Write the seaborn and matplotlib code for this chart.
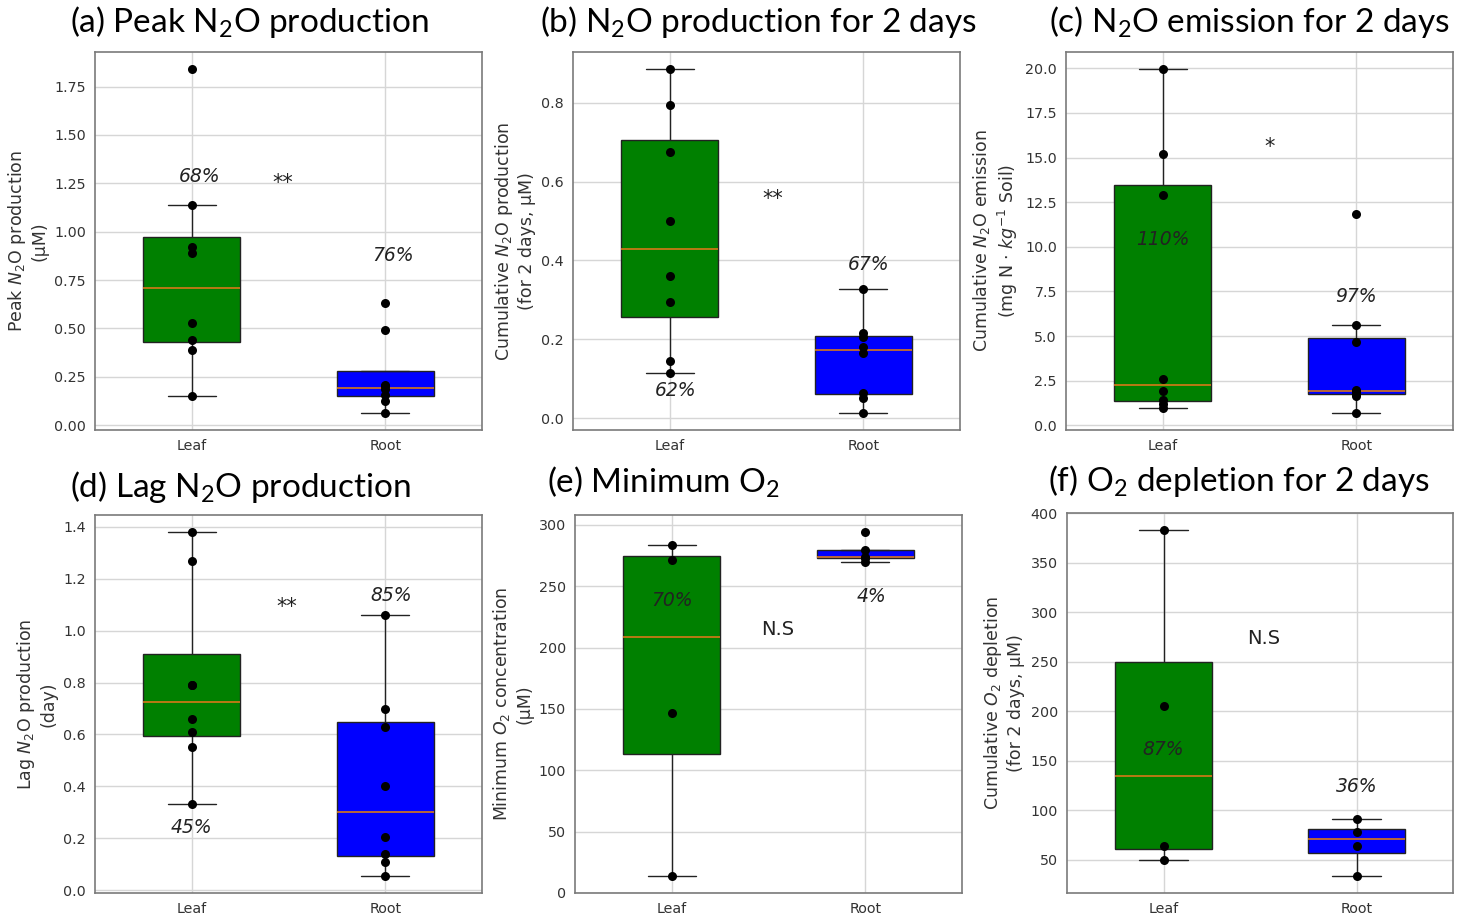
import matplotlib
matplotlib.use("Agg")
import matplotlib.pyplot as plt
import pandas as pd
import seaborn as sns

# ---- data: one small array per group and panel ----
groups = ["Leaf", "Root"]
group_colors = ["#008000", "#0000ff"]

peak_leaf = [1.84, 1.14, 0.92, 0.89, 0.53, 0.44, 0.39, 0.15]
peak_root = [0.63, 0.49, 0.21, 0.201, 0.185, 0.158, 0.126, 0.064]

cum_leaf = [0.885, 0.795, 0.675, 0.50, 0.36, 0.295, 0.145, 0.115]
cum_root = [0.327, 0.215, 0.206, 0.18, 0.165, 0.065, 0.05, 0.0135]

emis_leaf = [19.95, 15.2, 12.9, 2.6, 1.9, 1.4, 1.2, 0.95]
emis_root = [11.85, 5.6, 4.65, 2.0, 1.9, 1.78, 1.65, 0.7]

lag_leaf = [1.38, 1.27, 0.79, 0.79, 0.66, 0.61, 0.55, 0.33]
lag_root = [1.06, 0.70, 0.63, 0.40, 0.205, 0.14, 0.11, 0.055]

mino2_leaf = [283.4, 271.2, 146.5, 13.9]
mino2_root = [294.0, 279.6, 273.4, 272.8, 269.8]

dep_leaf = [383.0, 205.5, 64.5, 50.3]
dep_root = [91.6, 78.4, 64.5, 34.1]

titles = [
    r"(a) Peak N$_\mathregular{2}$O production",
    r"(b) N$_\mathregular{2}$O production for 2 days",
    r"(c) N$_\mathregular{2}$O emission for 2 days",
    r"(d) Lag N$_\mathregular{2}$O production",
    r"(e) Minimum O$_\mathregular{2}$",
    r"(f) O$_\mathregular{2}$ depletion for 2 days",
]
ylabels = [
    "Peak $N_2$O production\n(μM)",
    "Cumulative $N_2$O production\n(for 2 days, μM)",
    "Cumulative $N_2$O emission\n(mg N $\\cdot$ $kg^{-1}$ Soil)",
    "Lag $N_2$O production\n(day)",
    "Minimum $O_2$ concentration\n(μM)",
    "Cumulative $O_2$ depletion\n(for 2 days, μM)",
]
# coefficient of variation labels (Leaf, Root) and significance marks
cv_labels = [["68%", "76%"], ["62%", "67%"], ["110%", "97%"],
             ["45%", "85%"], ["70%", "4%"], ["87%", "36%"]]
sig_labels = ["**", "**", "*", "**", "N.S", "N.S"]

series = [(peak_leaf, peak_root), (cum_leaf, cum_root), (emis_leaf, emis_root),
          (lag_leaf, lag_root), (mino2_leaf, mino2_root), (dep_leaf, dep_root)]

# ---- layout (pixels of a 1467 x 917 canvas) ----
W, H = 1467, 917
axes_px = [(95, 52, 482, 430), (573, 52, 960, 430), (1066, 52, 1453, 430),
           (95, 515, 482, 893), (575, 515, 962, 893), (1067, 513, 1453, 893)]
title_px = [(70, 22), (540, 22), (1049, 22), (70, 487), (547, 482), (1048, 481)]
cv_pos = [[(0.04, 1.285), (1.04, 0.875)], [(0.03, 0.07), (1.03, 0.39)],
          [(0.0, 10.4), (1.0, 7.2)], [(0.0, 0.24), (1.03, 1.135)],
          [(0.0, 238.0), (1.03, 241.5)], [(0.0, 162.0), (1.0, 124.0)]]
sig_pos = [(0.47, 1.25), (0.53, 0.555), (0.55, 15.6), (0.49, 1.09),
           (0.55, 214.5), (0.52, 274.0)]

sns.set_style("white")
plt.rcParams["font.family"] = ["DejaVu Sans"]
plt.rcParams["mathtext.fontset"] = "dejavusans"

fig = plt.figure(figsize=(W / 100, H / 100), dpi=100)
fig.patch.set_facecolor("white")

for i, (leaf, root) in enumerate(series):
    l, t, r, b = axes_px[i]
    ax = fig.add_axes([l / W, 1 - b / H, (r - l) / W, (b - t) / H])
    df = pd.DataFrame({
        "group": [groups[0]] * len(leaf) + [groups[1]] * len(root),
        "value": list(leaf) + list(root),
    })
    sns.boxplot(data=df, x="group", y="value", hue="group", palette=group_colors,
                order=groups, hue_order=groups, legend=False, saturation=1,
                width=0.5, showfliers=False, linecolor="#222222", linewidth=1.0,
                medianprops=dict(color="#d87818", linewidth=1.2), ax=ax)
    sns.stripplot(data=df, x="group", y="value", order=groups, color="black",
                  jitter=False, size=6.5, zorder=4, ax=ax)

    ax.set_xlim(-0.5, 1.5)
    ax.grid(True, color="#d6d6d6", linewidth=1.0)
    ax.set_axisbelow(True)
    for sp in ax.spines.values():
        sp.set_color("#7a7a7a")
        sp.set_linewidth(1.2)
    ax.tick_params(axis="both", length=3.5, width=0.9, color="#555555",
                   labelsize=10.3, labelcolor="#333333", pad=3)
    ax.set_xlabel("")
    ax.set_ylabel(ylabels[i], fontsize=12.5, color="#333333", labelpad=4)

    for (x, y), txt in zip(cv_pos[i], cv_labels[i]):
        ax.text(x, y, txt, ha="center", va="center", fontsize=13.5,
                style="italic", color="#222222")
    sx, sy = sig_pos[i]
    ns = sig_labels[i] == "N.S"
    ax.text(sx, sy, sig_labels[i], ha="center", va="center",
            fontsize=14 if ns else 15, color="#222222")

    tx, ty = title_px[i]
    fig.text(tx / W, 1 - ty / H, titles[i], ha="left", va="center",
             fontsize=24, family=["Lato", "DejaVu Sans"], color="black")

fig.savefig("out.png", dpi=100, facecolor="white")
